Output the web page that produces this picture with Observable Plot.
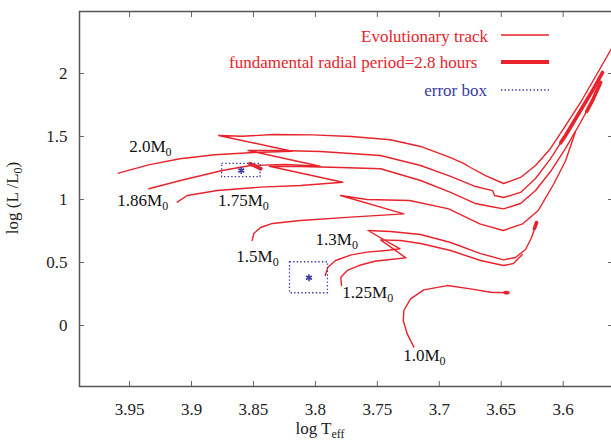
<!DOCTYPE html>
<html><head><meta charset="utf-8">
<script src="https://cdn.jsdelivr.net/npm/d3@7"></script>
<script src="https://cdn.jsdelivr.net/npm/@observablehq/plot@0.6"></script>
<style>
html,body{margin:0;padding:0;background:#fff;}
#chart{width:611px;height:442px;overflow:hidden;}
#chart svg, #chart svg text{font-family:"Liberation Serif", serif !important;}
</style></head><body><div id="chart"></div>
<script>
// ---- data (log Teff, log L/L0) ----
const xTicks = [3.95, 3.9, 3.85, 3.8, 3.75, 3.7, 3.65, 3.6];
const yTicks = [0, 0.5, 1, 1.5, 2];

const track20 = [[3.9591,1.209],[3.9346,1.275],[3.9094,1.323],[3.8812,1.355],[3.8497,1.373],[3.8188,1.383],
  [3.8780,1.508],[3.8591,1.502],[3.8339,1.516],[3.8025,1.513],[3.7711,1.500],[3.7396,1.474],[3.7151,1.421],
  [3.6909,1.333],[3.6804,1.286],[3.6748,1.254],[3.6627,1.190],[3.6481,1.127],[3.6344,1.175],[3.6223,1.270],
  [3.6102,1.405],[3.5981,1.587],[3.5860,1.770],[3.5739,1.976],[3.5610,2.198]];
const track186 = [[3.9344,1.085],[3.9088,1.151],[3.8752,1.230],[3.8523,1.270],[3.8241,1.278],[3.7962,1.264],
  [3.8544,1.389],[3.8281,1.389],[3.7958,1.381],[3.7474,1.349],[3.7151,1.270],[3.6909,1.183],[3.6707,1.103],
  [3.6570,1.071],[3.6554,1.032],[3.6481,1.016],[3.6344,1.056],[3.6223,1.167],[3.6102,1.325],[3.5981,1.508],
  [3.5860,1.706],[3.5763,1.865],[3.5682,2.008]];
const track175 = [[3.9115,0.979],[3.9034,1.032],[3.8792,1.071],[3.8443,1.098],[3.8120,1.111],[3.7779,1.137],
  [3.8371,1.264],[3.8120,1.262],[3.7797,1.254],[3.7474,1.244],[3.7151,1.151],[3.6909,1.056],[3.6707,0.968],
  [3.6586,0.944],[3.6481,0.926],[3.6344,0.968],[3.6223,1.071],[3.6102,1.222],[3.5981,1.405],[3.5860,1.611],
  [3.5763,1.786],[3.5698,1.929]];
const track15 = [[3.8510,0.675],[3.8497,0.730],[3.8443,0.778],[3.8346,0.810],[3.8120,0.833],[3.7716,0.860],
  [3.7286,0.886],[3.7797,1.032],[3.7582,1.000],[3.7239,0.992],[3.6924,0.926],[3.6673,0.807],[3.6484,0.754],
  [3.6327,0.807],[3.6201,0.913],[3.6075,1.125],[3.5980,1.310],[3.5902,1.534]];
const track13 = [[3.7921,0.397],[3.7899,0.463],[3.7837,0.516],[3.7711,0.561],[3.7585,0.582],[3.7427,0.595],
  [3.7317,0.609],[3.7576,0.754],[3.7393,0.746],[3.7151,0.722],[3.6909,0.659],[3.6667,0.571],[3.6481,0.521],
  [3.6385,0.540],[3.6304,0.603],[3.6255,0.698],[3.6215,0.817]];
const track125 = [[3.7789,0.317],[3.7795,0.383],[3.7742,0.437],[3.7648,0.476],[3.7522,0.510],[3.7396,0.524],
  [3.7270,0.537],[3.7474,0.680],[3.7313,0.675],[3.7151,0.651],[3.6909,0.595],[3.6667,0.516],[3.6481,0.476],
  [3.6401,0.492],[3.6330,0.563]];
const track10 = [[3.7205,-0.172],[3.7259,-0.066],[3.7291,0.040],[3.7286,0.119],[3.7232,0.212],[3.7125,0.283],
  [3.6936,0.317],[3.6748,0.291],[3.6586,0.264],[3.6452,0.260]];

const massNames = ["2.0", "1.86", "1.75", "1.5", "1.3", "1.25", "1.0"];
const massTracks = [track20, track186, track175, track15, track13, track125, track10];

// fundamental radial period = 2.8 hours segments
const periodSeg1 = [[3.8529,1.284],[3.8441,1.244]];
const periodSeg2 = [[3.6020,1.450],[3.5981,1.508],[3.5860,1.706],[3.5763,1.865],[3.5682,2.008]];
const periodSeg3 = [[3.5810,1.700],[3.5763,1.786],[3.5698,1.929]];
const periodSeg4 = [[3.6468,0.261],[3.6446,0.260]];
const periodSeg5 = [[3.6232,0.770],[3.6215,0.817]];
const periodSegs = [periodSeg1, periodSeg2, periodSeg3, periodSeg4, periodSeg5];

// error boxes
const errT = [3.8598, 3.8052];
const errL = [1.230, 0.379];
const errHalfT = [0.0155, 0.0153];
const errHalfL = [0.053, 0.123];

// track labels
const labelText = ["2.0M0", "1.86M0", "1.75M0", "1.5M0", "1.3M0", "1.25M0", "1.0M0"];
const labelT = [3.9503, 3.9599, 3.8787, 3.8638, 3.7999, 3.7783, 3.7291];
const labelL = [1.418, 0.995, 0.995, 0.545, 0.683, 0.261, -0.235];

const legendText = ["Evolutionary track", "fundamental radial period=2.8 hours", "error box"];

// ---- build tables ----
const RED = "#e8232b", BLUE = "#3a3aa0", AX = "#666";
const trackRows = massTracks.flatMap((pts, i) => pts.map(([T, L]) => ({mass: massNames[i], T, L})));
const segRows = periodSegs.flatMap((pts, i) => pts.map(([T, L]) => ({seg: i, T, L})));
const boxRows = errT.map((t, i) => ({T1: t - errHalfT[i], T2: t + errHalfT[i], L1: errL[i] - errHalfL[i], L2: errL[i] + errHalfL[i], T: t, L: errL[i]}));
const labelRows = labelText.map((s, i) => ({s, T: labelT[i], L: labelL[i]}));

const FONT = "Liberation Serif";

const chart = Plot.plot({
  width: 611, height: 442,
  marginLeft: 79, marginRight: -1, marginTop: 11, marginBottom: 56,
  style: {fontFamily: FONT, fontSize: "17px", background: "#fff", color: "#222"},
  x: {domain: [3.9904, 3.5602], label: null},
  y: {domain: [-0.484, 2.492], label: null},
  marks: [
    Plot.line(trackRows, {x: "T", y: "L", z: "mass", stroke: RED, strokeWidth: 1.4, clip: true}),
    Plot.line(segRows, {x: "T", y: "L", z: "seg", stroke: RED, strokeWidth: 3.6, clip: true}),
    Plot.rect(boxRows, {x1: "T1", x2: "T2", y1: "L1", y2: "L2", fill: "none", stroke: BLUE, strokeWidth: 1.3, strokeDasharray: "1.4,2.2"}),
    Plot.dot(boxRows, {x: "T", y: "L", symbol: "asterisk", r: 3.2, stroke: BLUE, strokeWidth: 1.6}),
    Plot.text(labelRows, {x: "T", y: "L", text: "s", textAnchor: "start", fill: "#111", fontSize: 17, fontFamily: FONT}),
    Plot.frame({stroke: "#555", strokeWidth: 1.5}),
    Plot.axisX({anchor: "bottom", ticks: xTicks, tickSize: 5, dy: -5, tickPadding: 16, stroke: AX, fill: "#222", fontSize: 17, fontFamily: FONT, label: null, tickFormat: d => String(d)}),
    Plot.axisX({anchor: "top", ticks: xTicks, tickSize: 5, dy: 5, stroke: AX, label: null, tickFormat: () => ""}),
    Plot.axisY({anchor: "left", ticks: yTicks, tickSize: 5, dx: 5, tickPadding: 12, stroke: AX, fill: "#222", fontSize: 17, fontFamily: FONT, label: null, tickFormat: d => String(d)}),
    Plot.axisY({anchor: "right", ticks: yTicks, tickSize: 5, dx: -5, stroke: AX, label: null, tickFormat: () => ""})
  ]
});
document.getElementById("chart").appendChild(chart);

const svg = d3.select(chart);
svg.selectAll("text").attr("font-family", FONT).style("font-family", FONT);
// subscripts on track labels
svg.selectAll("text").each(function () {
  const m = /^(\d\.\d+M)0$/.exec(this.textContent);
  if (m) {
    const t = d3.select(this);
    t.text(null);
    t.append("tspan").text(m[1]);
    t.append("tspan").attr("dy", 4).attr("font-size", 12).text("0");
  }
});

// axis titles
const xt = svg.append("text").attr("x", 320).attr("y", 434).attr("font-family", FONT).attr("font-size", 17).attr("fill", "#222");
xt.append("tspan").text("log T");
xt.append("tspan").attr("dy", 4).attr("font-size", 12).text("eff");
const yt = svg.append("text").attr("transform", "translate(18,198) rotate(-90)").attr("text-anchor", "middle")
  .attr("font-family", FONT).attr("font-size", 17).attr("fill", "#222");
yt.append("tspan").text("log (L /L");
yt.append("tspan").attr("dy", 4).attr("font-size", 12).text("0");
yt.append("tspan").attr("dy", -4).text(")");

// legend
const lg = svg.append("g").attr("font-family", FONT).attr("font-size", 17);
const legendStyle = [
  {fill: RED, endX: 488, base: 41.5, lineY: 35, w: 1.4, dash: null},
  {fill: RED, endX: 477.5, base: 68, lineY: 62, w: 4, dash: null},
  {fill: BLUE, endX: 487, base: 95.5, lineY: 90, w: 1.3, dash: "1.4,2.2"}
];
legendText.forEach((s, i) => {
  const st = legendStyle[i];
  lg.append("text").attr("x", st.endX).attr("y", st.base).attr("text-anchor", "end").attr("fill", st.fill).text(s);
  const ln = lg.append("line").attr("x1", 501).attr("x2", 549).attr("y1", st.lineY).attr("y2", st.lineY)
    .attr("stroke", st.fill).attr("stroke-width", st.w);
  if (st.dash) ln.attr("stroke-dasharray", st.dash);
});
</script>
</body></html>
